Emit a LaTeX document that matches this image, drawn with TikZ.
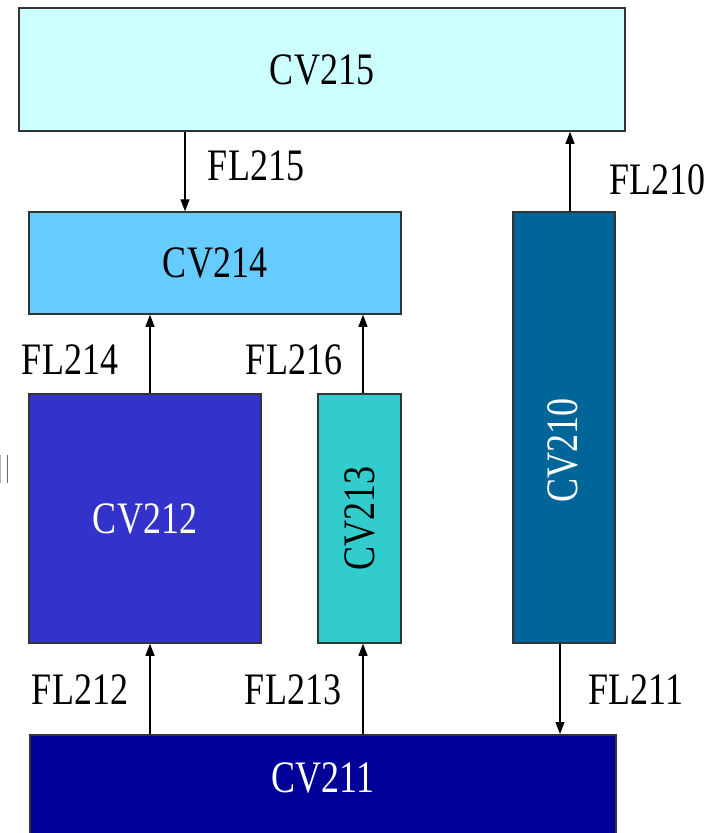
\documentclass[tikz,border=0pt]{standalone}
\usepackage{fontspec}
\setmainfont{Liberation Serif}[FakeStretch=0.8]
\usetikzlibrary{arrows.meta}
\definecolor{c215}{HTML}{CCFFFF}
\definecolor{c214}{HTML}{66CCFF}
\definecolor{c212}{HTML}{3333CC}
\definecolor{c213}{HTML}{33CCCC}
\definecolor{c210}{HTML}{006699}
\definecolor{c211}{HTML}{000099}
\definecolor{edge}{HTML}{333333}
\tikzset{
  cvbox/.style={draw=edge, line width=1.5pt, inner sep=0pt, font=\fontsize{45}{50}\selectfont},
  flow/.style={draw=black, line width=1.2pt, -{Triangle[length=12pt,width=9pt]}},
  fllabel/.style={inner sep=0pt, font=\fontsize{45}{50}\selectfont},
}
\begin{document}
\begin{tikzpicture}[x=1pt,y=-1pt]
\useasboundingbox (0,0) rectangle (719,833);
\clip (0,0) rectangle (719,833);
\fill[white] (0,0) rectangle (719,833);
% boxes
\node[cvbox, fill=c215, minimum width=606pt, minimum height=123pt] (cv215) at (322,69.5) {CV215};
\node[cvbox, fill=c214, minimum width=372pt, minimum height=102pt] (cv214) at (215,263) {CV214};
\node[cvbox, fill=c212, minimum width=232pt, minimum height=249pt, text=white] (cv212) at (145,518.5) {CV212};
\node[cvbox, fill=c213, minimum width=83pt, minimum height=249pt] (cv213) at (359.5,518.5) {};
\node[font=\fontsize{45}{50}\selectfont, rotate=90, inner sep=0pt] (t213) at (cv213.center) {CV213};
\node[cvbox, fill=c210, minimum width=102pt, minimum height=431pt] (cv210) at (564,427.5) {};
\node[font=\fontsize{45}{50}\selectfont, rotate=90, inner sep=0pt, text=white] (t210) at (563,450) {CV210};
\node[cvbox, fill=c211, minimum width=586pt, minimum height=130pt, anchor=north west] (cv211) at (29,734) {};
\node[font=\fontsize{45}{50}\selectfont, inner sep=0pt, text=white] (t211) at (323,778) {CV211};
% flows
\draw[flow] (cv215.south -| 185,0) -- (cv214.north -| 185,0);
\draw[flow] (cv210.north -| 570,0) -- (cv215.south -| 570,0);
\draw[flow] (cv212.north -| 150,0) -- (cv214.south -| 150,0);
\draw[flow] (cv213.north -| 363,0) -- (cv214.south -| 363,0);
\draw[flow] (cv211.north -| 150,0) -- (cv212.south -| 150,0);
\draw[flow] (cv211.north -| 363,0) -- (cv213.south -| 363,0);
\draw[flow] (cv210.south -| 560,0) -- (cv211.north -| 560,0);
% labels
\node[fllabel] (l215) at (256,166) {FL215};
\node[fllabel] (l210) at (657,180) {FL210};
\node[fllabel] (l214) at (70,360) {FL214};
\node[fllabel] (l216) at (294,360) {FL216};
\node[fllabel] (l212) at (80,690) {FL212};
\node[fllabel] (l213) at (293,690) {FL213};
\node[fllabel] (l211) at (636,690) {FL211};
% edge marks at left
\draw[gray!60, line width=1pt] (0.5,455) -- (0.5,483);
\draw[gray!120, line width=1pt] (7,455) -- (7,483);
\end{tikzpicture}
\end{document}
